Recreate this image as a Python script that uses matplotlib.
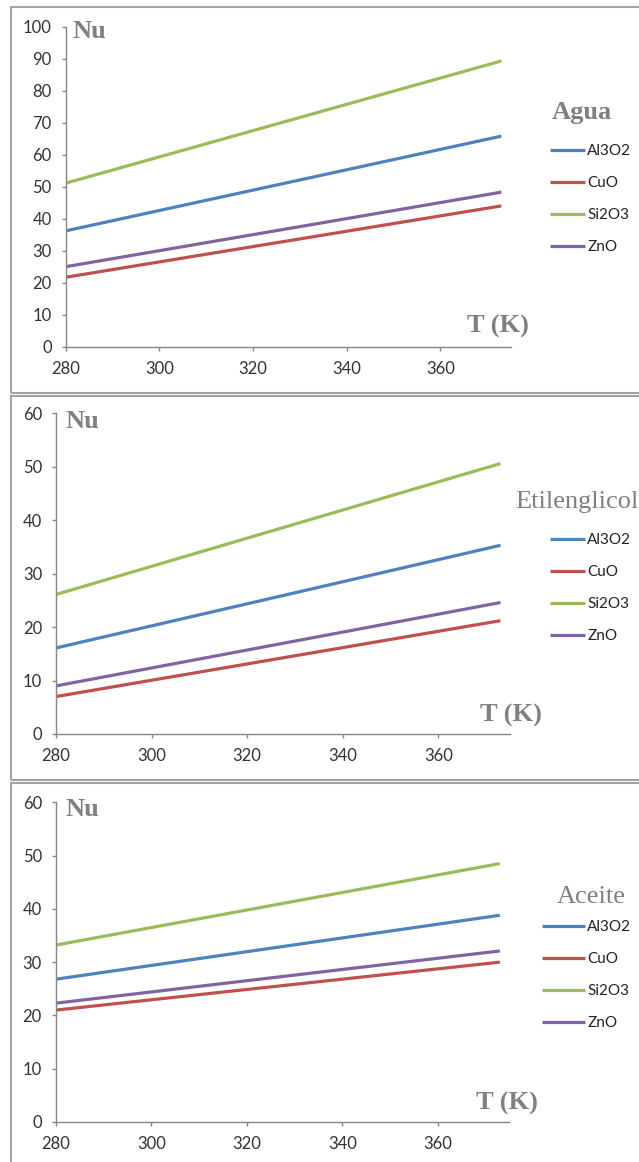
import matplotlib
matplotlib.use('Agg')
import matplotlib.pyplot as plt
from matplotlib.patches import Rectangle

# Temperatura (K) y número de Nusselt por nanofluido
temp_K = [280, 373]

agua_al3o2 = [36.2, 65.8]
agua_cuo = [21.7, 44.0]
agua_si2o3 = [51.1, 89.3]
agua_zno = [25.0, 48.3]

etil_al3o2 = [16.1, 35.3]
etil_cuo = [7.0, 21.2]
etil_si2o3 = [26.1, 50.6]
etil_zno = [9.0, 24.6]

aceite_al3o2 = [26.8, 38.8]
aceite_cuo = [21.0, 30.0]
aceite_si2o3 = [33.2, 48.5]
aceite_zno = [22.3, 32.1]

labels = ['Al3O2', 'CuO', 'Si2O3', 'ZnO']
colores = ['#4F81BD', '#C0504D', '#9BBB59', '#8064A2']
x_ticks = [280, 300, 320, 340, 360]

W, H = 639, 1162
fig = plt.figure(figsize=(W / 100, H / 100), dpi=100)
fig.patch.set_facecolor('white')

gris = '#808080'
eje = '#868686'
texto = '#333333'


def caja(l, t, r, b):
    return [l / W, 1 - b / H, (r - l) / W, (b - t) / H]


def fy(y):
    return 1 - y / H


def fx(x):
    return x / W


# marcos de cada gráfico
for t, b in [(7, 392.5), (395.5, 780), (783, 1175)]:
    fig.add_artist(Rectangle((fx(11), fy(b)), fx(660) - fx(11), fy(t) - fy(b),
                             transform=fig.transFigure, fill=False,
                             edgecolor='#a3a3a3', linewidth=1.5))

paneles = [
    dict(pos=(65.7, 26.7, 510.7, 346.7), ymax=100, yt=range(0, 101, 10),
         series=[agua_al3o2, agua_cuo, agua_si2o3, agua_zno],
         titulo='Agua', tw='bold', tpos=(551.7, 113), leg=(550, 144), hl=2.3,
         nu=(72.7, 31.7), tk=(467, 326.7)),
    dict(pos=(56, 413.3, 510, 734), ymax=60, yt=range(0, 61, 10),
         series=[etil_al3o2, etil_cuo, etil_si2o3, etil_zno],
         titulo='Etilenglicol', tw='normal', tpos=(515, 501.7), leg=(550, 533), hl=2.3,
         nu=(66, 421.7), tk=(480, 715)),
    dict(pos=(55.8, 802.3, 509.4, 1122), ymax=60, yt=range(0, 61, 10),
         series=[aceite_al3o2, aceite_cuo, aceite_si2o3, aceite_zno],
         titulo='Aceite', tw='normal', tpos=(557, 896.7), leg=(542, 920), hl=2.8,
         nu=(65, 809), tk=(476, 1103)),
]

for p in paneles:
    ax = fig.add_axes(caja(*p['pos']))
    for serie, lab, c in zip(p['series'], labels, colores):
        ax.plot(temp_K, serie, color=c, linewidth=2.3, label=lab,
                solid_capstyle='butt')
    ax.set_xlim(280, 375)
    ax.set_ylim(0, p['ymax'])
    ax.set_xticks(x_ticks)
    ax.set_yticks(list(p['yt']))
    for s in ['top', 'right']:
        ax.spines[s].set_visible(False)
    for s in ['left', 'bottom']:
        ax.spines[s].set_color(eje)
        ax.spines[s].set_linewidth(1.0)
    ax.tick_params(axis='both', direction='out', length=3, width=1,
                   color=eje, labelcolor=texto, labelsize=12)
    ax.tick_params(axis='y', pad=7)
    ax.tick_params(axis='x', pad=7)
    for lbl in ax.get_xticklabels() + ax.get_yticklabels():
        lbl.set_family('Lato')

    leg = ax.legend(loc='upper left', bbox_to_anchor=(fx(p['leg'][0]), fy(p['leg'][1])),
                    bbox_transform=fig.transFigure, frameon=False,
                    handlelength=p['hl'], handletextpad=0.15, labelspacing=1.18,
                    borderpad=0, borderaxespad=0,
                    prop={'family': 'Lato', 'size': 11})
    for t in leg.get_texts():
        t.set_color('#222222')

    fig.text(fx(p['tpos'][0]), fy(p['tpos'][1]), p['titulo'], family='Liberation Serif',
             fontsize=19, fontweight=p['tw'], color=gris, ha='left', va='center')
    fig.text(fx(p['nu'][0]), fy(p['nu'][1]), 'Nu', family='Liberation Serif',
             fontsize=19, fontweight='bold', color=gris, ha='left', va='center')
    fig.text(fx(p['tk'][0]), fy(p['tk'][1]), 'T (K)', family='Liberation Serif',
             fontsize=19, fontweight='bold', color=gris, ha='left', va='center')

fig.savefig('out.png', dpi=100, facecolor='white')
